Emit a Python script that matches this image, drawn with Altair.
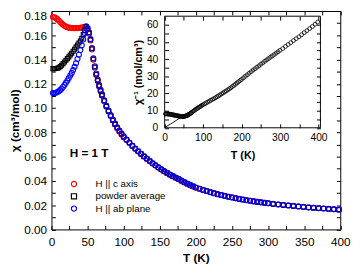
import altair as alt
import pandas as pd

FONT = "Liberation Sans"

# ---------------- data ----------------
T_low = [2, 4, 6, 8, 10, 12, 14, 16, 18, 20, 22, 24, 26, 28, 30, 32, 34, 36, 38, 40, 42, 44, 46, 48]
chi_c_low = [0.1750, 0.1748, 0.1742, 0.1733, 0.1722, 0.1710, 0.1698, 0.1687, 0.1678, 0.1671, 0.1666, 0.1663,
             0.1661, 0.1660, 0.1659, 0.1659, 0.1659, 0.1659, 0.1660, 0.1661, 0.1663, 0.1666, 0.1669, 0.1670]
chi_pow_low = [0.1325, 0.1325, 0.1326, 0.1328, 0.1333, 0.1342, 0.1353, 0.1366, 0.1380, 0.1394, 0.1408, 0.1422,
               0.1437, 0.1452, 0.1468, 0.1485, 0.1503, 0.1520, 0.1536, 0.1553, 0.1576, 0.1605, 0.1640, 0.1672]
chi_ab_low = [0.1125, 0.1125, 0.1127, 0.1131, 0.1138, 0.1148, 0.1160, 0.1174, 0.1190, 0.1208, 0.1227, 0.1247,
              0.1268, 0.1290, 0.1313, 0.1340, 0.1370, 0.1405, 0.1440, 0.1478, 0.1518, 0.1565, 0.1618, 0.1675]

T_high = [50, 52, 54, 56, 58, 60, 62, 64, 66, 68, 70,
          73, 76, 79, 82, 85, 88, 91, 94, 97, 100,
          104, 108, 112, 116, 120, 124, 128, 132, 136, 140, 144, 148, 152, 156, 160, 164, 168, 172, 176, 180,
          184, 188, 192, 196, 200,
          205, 210, 215, 220, 225, 230, 235, 240, 245, 250, 255, 260, 265, 270, 275, 280, 285, 290, 295, 300,
          307, 314, 321, 328, 335, 342, 349, 356, 363, 370, 377, 384, 391, 398]
chi_ab_high = [0.1660, 0.1625, 0.1570, 0.1495, 0.1410, 0.1345, 0.1285, 0.1235, 0.1190, 0.1150, 0.1113,
               0.1065, 0.1020, 0.0980, 0.0942, 0.0905, 0.0872, 0.0842, 0.0815, 0.0790, 0.0767,
               0.0740, 0.0715, 0.0690, 0.0667, 0.0645, 0.0624, 0.0603, 0.0584, 0.0565, 0.0546, 0.0529, 0.0512,
               0.0496, 0.0481, 0.0467, 0.0453, 0.0440, 0.0428, 0.0417, 0.0403, 0.0390, 0.0378, 0.0367, 0.0356, 0.0346,
               0.0335, 0.0325, 0.0316, 0.0307, 0.0298, 0.0290, 0.0283, 0.0276, 0.0269, 0.0263, 0.0257, 0.0251,
               0.0246, 0.0241, 0.0236, 0.0231, 0.0227, 0.0223, 0.0219, 0.0215,
               0.0210, 0.0205, 0.0201, 0.0197, 0.0193, 0.0189, 0.0185, 0.0181, 0.0178, 0.0175, 0.0172, 0.0169,
               0.0166, 0.0163]
chi_c_high = [0.1648, 0.1613, 0.1558, 0.1483, 0.1398, 0.1333, 0.1273, 0.1223, 0.1178, 0.1138, 0.1101,
              0.1057, 0.1012, 0.0972, 0.0934, 0.0897, 0.0864, 0.0834, 0.0807, 0.0782, 0.0759,
              0.0737, 0.0712, 0.0687, 0.0664, 0.0642, 0.0621, 0.0600, 0.0581, 0.0562, 0.0543, 0.0526, 0.0509,
              0.0493, 0.0478, 0.0464, 0.0450, 0.0437, 0.0425, 0.0414, 0.0400, 0.0387, 0.0375, 0.0364, 0.0353, 0.0343,
              0.0336, 0.0326, 0.0317, 0.0308, 0.0299, 0.0291, 0.0284, 0.0277, 0.0270, 0.0264, 0.0258, 0.0252,
              0.0247, 0.0242, 0.0237, 0.0232, 0.0228, 0.0224, 0.0220, 0.0216,
              0.0211, 0.0206, 0.0202, 0.0198, 0.0194, 0.0190, 0.0186, 0.0182, 0.0179, 0.0176, 0.0173, 0.0170,
              0.0167, 0.0164]
chi_pow_high = [0.1654, 0.1619, 0.1564, 0.1489, 0.1404, 0.1339, 0.1279, 0.1229, 0.1184, 0.1144, 0.1107,
                0.1061, 0.1016, 0.0976, 0.0938, 0.0901, 0.0868, 0.0838, 0.0811, 0.0786, 0.0763,
                0.0739, 0.0714, 0.0689, 0.0666, 0.0644, 0.0623, 0.0602, 0.0583, 0.0564, 0.0545, 0.0528, 0.0511,
                0.0495, 0.0480, 0.0466, 0.0452, 0.0439, 0.0427, 0.0416, 0.0402, 0.0389, 0.0377, 0.0366, 0.0355, 0.0345,
                0.0335, 0.0325, 0.0316, 0.0307, 0.0298, 0.0290, 0.0283, 0.0276, 0.0269, 0.0263, 0.0257, 0.0251,
                0.0246, 0.0241, 0.0236, 0.0231, 0.0227, 0.0223, 0.0219, 0.0215,
                0.0210, 0.0205, 0.0201, 0.0197, 0.0193, 0.0189, 0.0185, 0.0181, 0.0178, 0.0175, 0.0172, 0.0169,
                0.0166, 0.0163]

# inset: inverse susceptibility (powder average)
inv_low = [8.1, 8.1, 8.1, 8.05, 8.0, 7.95, 7.9, 7.8, 7.7, 7.6, 7.5, 7.45,
           7.35, 7.25, 7.15, 7.05, 6.95, 6.85, 6.8, 6.7, 6.65, 6.6, 6.55, 6.5]
inv_high = [6.6, 6.7, 6.85, 7.0, 7.15, 7.35, 7.6, 7.9, 8.2, 8.5, 8.8,
            9.4, 9.9, 10.4, 10.9, 11.3, 11.8, 12.2, 12.6, 13.1, 13.5,
            14.0, 14.5, 15.0, 15.5, 16.0, 16.5, 17.0, 17.5, 18.1, 18.6, 19.2, 19.8,
            20.3, 20.9, 21.5, 22.1, 22.7, 23.3, 24.0, 24.7, 25.4, 26.1, 26.8, 27.5, 28.2,
            29.1, 30.0, 30.9, 31.8, 32.7, 33.6, 34.4, 35.3, 36.1, 37.0, 37.8, 38.7,
            39.5, 40.3, 41.1, 41.9, 42.7, 43.5, 44.3, 45.1,
            46.2, 47.4, 48.5, 49.6, 50.8, 51.9, 53.0, 54.2, 55.4, 56.6, 57.8, 59.0,
            60.3, 61.6]
fit_T = [0, 100]
fit_inv = [0, 14.3]

series_names = ["H || c axis", "powder average", "H || ab plane"]
series_colors = ["#ff0000", "#000000", "#0000ff"]
series_shapes = ["circle", "square", "circle"]
series_sizes = [26, 17, 26]

main_x_domain = [0, 400]
main_y_domain = [0, 0.18]
main_x_ticks = [0, 25, 50, 75, 100, 125, 150, 175, 200, 225, 250, 275, 300, 325, 350, 375, 400]
main_y_ticks = [0.0, 0.01, 0.02, 0.03, 0.04, 0.05, 0.06, 0.07, 0.08, 0.09, 0.10,
                0.11, 0.12, 0.13, 0.14, 0.15, 0.16, 0.17, 0.18]
inset_x_domain = [0, 405]
inset_y_domain = [0, 65]
inset_x_ticks = [0, 50, 100, 150, 200, 250, 300, 350, 400]
inset_y_ticks = [0, 5, 10, 15, 20, 25, 30, 35, 40, 45, 50, 55, 60]

# ---------------- tables ----------------
series_frames = []
for name, lo, hi in zip(series_names, [chi_c_low, chi_pow_low, chi_ab_low],
                        [chi_c_high, chi_pow_high, chi_ab_high]):
    series_frames.append(pd.DataFrame({"T": T_low + T_high, "chi": lo + hi, "series": name}))
df_main = pd.concat(series_frames, ignore_index=True)
df_inset = pd.DataFrame({"T": T_low + T_high, "inv": inv_low + inv_high})
df_fit = pd.DataFrame({"T": fit_T, "inv": fit_inv})
df_box = pd.DataFrame({"x0": [inset_x_domain[0]], "x1": [inset_x_domain[1]],
                       "y0": [inset_y_domain[0]], "y1": [inset_y_domain[1]]})

# ---------------- geometry ----------------
W, H = 295.5, 223.5
TK = 4
IX_RANGE = [115.8, 275.2]
IY_RANGE = [119.5, 5.3]

mx = alt.Scale(domain=main_x_domain, nice=False, zero=False)
my = alt.Scale(domain=main_y_domain, nice=False, zero=False)
ix = alt.Scale(domain=inset_x_domain, range=IX_RANGE, nice=False, zero=False)
iy = alt.Scale(domain=inset_y_domain, range=IY_RANGE, nice=False, zero=False)
color_scale = alt.Scale(domain=series_names, range=series_colors)
shape_scale = alt.Scale(domain=series_names, range=series_shapes)

legend = alt.Legend(title=None, orient="none", legendX=18, legendY=172, labelFontSize=10,
                    labelFont=FONT, labelColor="black", symbolSize=28, symbolStrokeWidth=1.2,
                    labelOffset=17, rowPadding=0.6, padding=0)

main_x_axis = alt.Axis(
    orient="bottom", values=main_x_ticks,
    labelExpr="datum.value % 50 === 0 ? datum.label : ''",
    offset=-TK, tickSize=TK, domain=False, labelFlush=False, labelFontSize=12,
    labelPadding=7, title="T (K)", titleFontSize=12, titlePadding=6)
main_y_axis = alt.Axis(
    orient="left", values=main_y_ticks,
    labelExpr="round(datum.value*100) % 2 === 0 ? format(datum.value, '.2f') : ''",
    labelBaseline={"condition": {"test": "datum.value > 0.175", "value": "top"}, "value": "middle"},
    offset=-TK, tickSize=TK, domain=False, labelFontSize=12, labelPadding=5,
    title="χ (cm³/mol)", titleFontSize=12, titlePadding=2)

series_layers = []
for i, (name, size) in enumerate(zip(series_names, series_sizes)):
    first = i == 0
    series_layers.append(
        alt.Chart(df_main).transform_filter(alt.datum.series == name)
        .mark_point(filled=False, size=size, strokeWidth=1.1, opacity=1)
        .encode(
            x=alt.X("T:Q", scale=mx, axis=main_x_axis if first else None),
            y=alt.Y("chi:Q", scale=my, axis=main_y_axis if first else None),
            color=alt.Color("series:N", scale=color_scale, legend=legend),
            shape=alt.Shape("series:N", scale=shape_scale, legend=legend),
        )
    )

main_frame_axes = alt.Chart(df_main).mark_point(opacity=0, size=1).encode(
    x=alt.X("T:Q", scale=mx, axis=alt.Axis(orient="top", values=main_x_ticks, labels=False, title=None,
                                            offset=-TK, tickSize=TK, domain=False)),
    y=alt.Y("chi:Q", scale=my, axis=alt.Axis(orient="right", values=main_y_ticks, labels=False, title=None,
                                              offset=-TK, tickSize=TK, domain=False)),
)

inset_frame = alt.Chart(df_box).mark_rect(color="white", fillOpacity=0, stroke="black", strokeWidth=1).encode(
    x=alt.X("x0:Q", scale=ix, axis=alt.Axis(orient="top", values=inset_x_ticks, labels=False, title=None,
                                             offset=-(IY_RANGE[1] + TK), tickSize=TK, domain=False)),
    x2="x1:Q",
    y=alt.Y("y0:Q", scale=iy, axis=alt.Axis(orient="right", values=inset_y_ticks, labels=False, title=None,
                                             offset=-(W - IX_RANGE[1] + TK), tickSize=TK, domain=False)),
    y2="y1:Q",
)

inset_line = alt.Chart(df_fit).mark_line(color="black", strokeWidth=0.9).encode(
    x=alt.X("T:Q", scale=ix, axis=None),
    y=alt.Y("inv:Q", scale=iy, axis=None),
)

inset_points = alt.Chart(df_inset).mark_point(shape="circle", filled=False, size=16, strokeWidth=0.8,
                                               color="black", opacity=1).encode(
    x=alt.X("T:Q", scale=ix, axis=alt.Axis(
        orient="bottom", values=inset_x_ticks,
        labelExpr="datum.value % 100 === 0 ? datum.label : ''",
        offset=-(H - IY_RANGE[0] + TK), tickSize=TK, domain=False, labelFlush=False,
        labelFontSize=10.5, labelPadding=5, title="T (K)", titleFontSize=11, titlePadding=7)),
    y=alt.Y("inv:Q", scale=iy, axis=alt.Axis(
        orient="left", values=inset_y_ticks,
        labelExpr="datum.value % 10 === 0 ? datum.label : ''",
        offset=-(IX_RANGE[0] + TK), tickSize=TK, domain=False, labelFontSize=10.5, labelPadding=7,
        title="χ⁻¹ (mol/cm³)", titleFontSize=11, titlePadding=3)),
)

field_label = alt.Chart(pd.DataFrame({"t": ["H = 1 T"]})).mark_text(
    font=FONT, fontSize=12, fontWeight="bold", color="black", align="center", baseline="middle"
).encode(text="t:N", x=alt.value(38.5), y=alt.value(145.5))

chart = alt.layer(
    *series_layers, main_frame_axes, inset_frame, inset_line, inset_points, field_label
).resolve_scale(
    x="independent", y="independent"
).resolve_axis(
    x="independent", y="independent"
).properties(
    width=W, height=H,
    padding={"left": 44.5, "top": 0, "right": 12, "bottom": 41.5},
    autosize=alt.AutoSizeParams(type="none"),
).configure_view(
    stroke="black", strokeWidth=1
).configure_axis(
    grid=False, tickColor="black", tickWidth=1, labelColor="black", titleColor="black",
    labelFont=FONT, titleFont=FONT, titleFontWeight="bold"
)

chart.save("out.html", embed_options={"renderer": "svg", "actions": False})
